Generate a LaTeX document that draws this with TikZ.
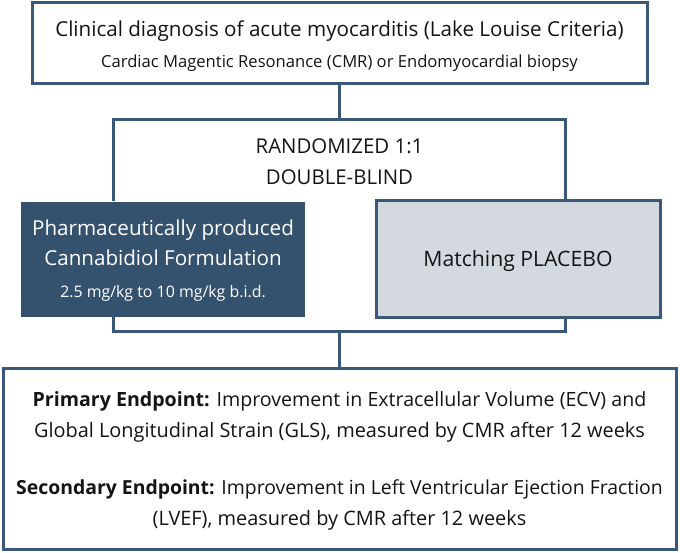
\documentclass[tikz,border=0pt]{standalone}
\usepackage{fontspec}
\setmainfont{Open Sans}
\definecolor{edgeblue}{HTML}{3A5878}
\definecolor{darkfill}{HTML}{34516E}
\definecolor{grayfill}{HTML}{D4D8DF}
\definecolor{txt}{HTML}{141414}
\begin{document}
\begin{tikzpicture}[x=1pt,y=-1pt,
  box/.style={draw=edgeblue, line width=3pt, fill=white, rectangle, inner sep=0pt},
  conn/.style={draw=edgeblue, line width=3pt},
  lbl/.style={anchor=base, inner sep=0pt, text=txt},
  wlbl/.style={anchor=base, inner sep=0pt, text=white},
]
\useasboundingbox (0,0) rectangle (680,553);
% top box
\node[box, minimum width=615pt, minimum height=81pt] (top) at (339.5,43.5) {};
\node[lbl] (t1) at (339.5,37) {\fontsize{20.6}{22}\selectfont Clinical diagnosis of acute myocarditis (Lake Louise Criteria)};
\node[lbl] (t2) at (339.5,67.5) {\fontsize{16.6}{18}\selectfont Cardiac Magentic Resonance (CMR) or Endomyocardial biopsy};
% randomized frame
\node[rectangle, inner sep=0pt, minimum width=451pt, minimum height=81pt] (rand) at (339.5,160.5) {};
\node[lbl] (r1) at (339.5,154) {\fontsize{20.4}{22}\selectfont RANDOMIZED 1:1};
\node[lbl] (r2) at (339.5,185) {\fontsize{20.4}{22}\selectfont DOUBLE-BLIND};
\draw[conn] (rand.south west) |- (rand.north) -| (rand.south east);
\draw[conn] (top.south) -- (rand.north);
% arms
\node[rectangle, fill=darkfill, draw=darkfill, line width=1pt, minimum width=283pt, minimum height=114pt, inner sep=0pt] (dark) at (163,259.5) {};
\node[wlbl] (d1) at (163,236) {\fontsize{20.6}{22}\selectfont Pharmaceutically produced};
\node[wlbl] (d2) at (163,266) {\fontsize{20.6}{22}\selectfont Cannabidiol Formulation};
\node[wlbl] (d3) at (163,298) {\fontsize{15.9}{18}\selectfont 2.5 mg/kg to 10 mg/kg b.i.d.};
\node[box, fill=grayfill, minimum width=284pt, minimum height=117pt] (gray) at (518,259.5) {};
\node[lbl] (g1) at (518,267) {\fontsize{21.2}{22}\selectfont Matching PLACEBO};
% join
\coordinate (join) at (339.5,331);
\draw[conn] (dark.south -| rand.south west) |- (join) -| (gray.south -| rand.south east);
% bottom box
\node[box, minimum width=673pt, minimum height=181pt] (bottom) at (339.5,458.5) {};
\node[lbl] (b1) at (339.5,406.7) {\fontsize{19.6}{22}\selectfont \textbf{Primary Endpoint:} Improvement in Extracellular Volume (ECV) and};
\node[lbl] (b2) at (339.5,437.5) {\fontsize{19.9}{22}\selectfont Global Longitudinal Strain (GLS), measured by CMR after 12 weeks};
\node[lbl] (b3) at (339.5,494) {\fontsize{19.4}{22}\selectfont \textbf{Secondary Endpoint:} Improvement in Left Ventricular Ejection Fraction};
\node[lbl] (b4) at (339.5,525) {\fontsize{19.9}{22}\selectfont (LVEF), measured by CMR after 12 weeks};
\draw[conn] (join) -- (bottom.north);
\end{tikzpicture}
\end{document}
